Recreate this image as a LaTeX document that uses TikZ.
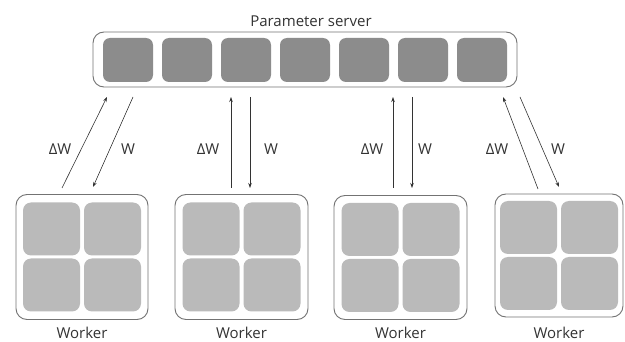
\documentclass[tikz,border=0pt]{standalone}
\usepackage{fontspec}
\setmainfont{Open Sans}
\usetikzlibrary{arrows.meta}
\begin{document}
\begin{tikzpicture}[x=1pt,y=-1pt,
  frame/.style={draw=black!55, line width=0.9pt, fill=white, rounded corners=11pt, inner sep=0pt},
  pcell/.style={fill=black!45, rounded corners=7pt, inner sep=0pt, minimum width=50pt, minimum height=44pt},
  wcell/.style={fill=black!27, rounded corners=8pt, inner sep=0pt, minimum width=57pt, minimum height=53pt},
  flow/.style={draw=black!80, line width=0.6pt, -{Stealth[length=5pt,width=3.5pt]}},
  lbl/.style={font=\fontsize{15}{17}\selectfont, text=black!80, inner sep=1pt}]
\useasboundingbox (0,0) rectangle (625,342);

% parameter server with its seven shards
\node[lbl, anchor=base] (title) at (311,27) {Parameter server};
\node[frame, minimum width=424pt, minimum height=55pt] (server) at (305,59.5) {};
\foreach \i in {0,...,6}
  \node[pcell] (s\i) at (128+59*\i,60) {};

% workers, each with four cells
\foreach \n/\cx/\cy/\w/\h in {1/82/257/132/125, 2/241.5/257/133/125, 3/400.5/257.5/133/124, 4/559/255.5/128/123}{
  \node[frame, minimum width=\w pt, minimum height=\h pt] (w\n) at (\cx,\cy) {};
  \node[wcell] (w\n a) at (\cx-30.5,\cy-28) {};
  \node[wcell] (w\n b) at (\cx+30.5,\cy-28) {};
  \node[wcell] (w\n c) at (\cx-30.5,\cy+28) {};
  \node[wcell] (w\n d) at (\cx+30.5,\cy+28) {};
  \node[lbl, inner sep=0pt, anchor=base] (wl\n) at (\cx,338) {Worker};
}

% arrow end points
\coordinate (u1a) at (62,188);  \coordinate (u1b) at (107,97);
\coordinate (d1a) at (133,97);  \coordinate (d1b) at (93,187);
\coordinate (u2a) at (231,188); \coordinate (u2b) at (231,97);
\coordinate (d2a) at (250,97);  \coordinate (d2b) at (250,188);
\coordinate (u3a) at (393,188); \coordinate (u3b) at (393,97);
\coordinate (d3a) at (412,97);  \coordinate (d3b) at (412,188);
\coordinate (u4a) at (538,189); \coordinate (u4b) at (503,97);
\coordinate (d4a) at (520,97);  \coordinate (d4b) at (559,187);

\foreach \k in {1,...,4}{
  \draw[flow] (u\k a) -- (u\k b);
  \draw[flow] (d\k a) -- (d\k b);
}

% update labels
\foreach \k/\xa/\xb in {1/60/128, 2/208/271, 3/372/425, 4/497/558}{
  \node[lbl] (dw\k) at (\xa,149) {ΔW};
  \node[lbl] (ww\k) at (\xb,149) {W};
}
\end{tikzpicture}
\end{document}
